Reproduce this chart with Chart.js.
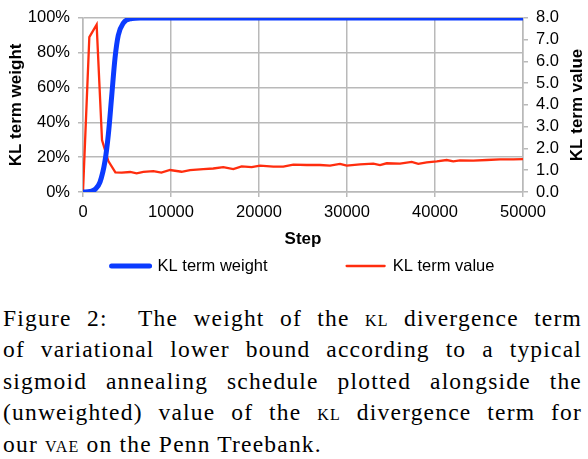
<!DOCTYPE html>
<html lang="en">
<head>
<meta charset="UTF-8">
<title>KL term weight and KL term value</title>
<script src="https://cdn.jsdelivr.net/npm/chart.js"></script>
<style>
  body { margin: 0; background: #fff; }
  #wrap { position: relative; width: 588px; height: 459px; overflow: hidden; }
  #chart { position: absolute; left: 0; top: 0; }
  #caption { position: absolute; left: 3px; top: 303px; width: 579px;
    font-family: "Liberation Serif", "DejaVu Serif", serif; font-size: 23.5px; letter-spacing: 1.2px;
    line-height: 31.4px; color: #000; }
  #caption div { text-align: justify; text-align-last: justify; white-space: nowrap; }
  #caption div.last { text-align-last: left; }
  .sc { font-variant: small-caps; }
</style>
</head>
<body>
<div id="wrap">
  <canvas id="chart" width="588" height="285"></canvas>
  <div id="caption">
    <div>Figure 2:&nbsp; The weight of the <span class="sc">kl</span> divergence term</div>
    <div>of variational lower bound according to a typical</div>
    <div>sigmoid annealing schedule plotted alongside the</div>
    <div>(unweighted) value of the <span class="sc">kl</span> divergence term for</div>
    <div class="last">our <span class="sc">vae</span> on the Penn Treebank.</div>
  </div>
</div>
<script>
  // KL term weight (left axis, %)
  const weightSteps = [0, 800, 1360, 1930, 2500, 2880, 3260, 3640, 4010, 4580, 5530, 6500, 50000];
  const weightPct   = [0, 0.3, 1.5, 5.7, 17.8, 33, 55, 77, 90, 97, 99.6, 100, 100];

  // KL term value (right axis)
  const klSteps = [0, 720, 1550, 2160, 2880, 3680, 4400, 5360, 6100, 6860, 8000, 8900, 9890, 11200, 12160,
    13670, 14800, 15940, 17080, 18030, 19170, 20110, 21630, 22760, 23900, 25420, 26930, 28070, 29200,
    29970, 31480, 32990, 33750, 34510, 36020, 37350, 38100, 39060, 40200, 41330, 42080, 42840, 44350,
    45870, 47390, 48900, 50000];
  const klValues = [0, 7.12, 7.69, 2.39, 1.42, 0.90, 0.89, 0.92, 0.86, 0.92, 0.96, 0.89, 1.01, 0.93, 1.01,
    1.05, 1.08, 1.14, 1.05, 1.18, 1.14, 1.21, 1.17, 1.17, 1.26, 1.24, 1.24, 1.21, 1.29,
    1.21, 1.27, 1.30, 1.24, 1.32, 1.30, 1.38, 1.29, 1.36, 1.41, 1.47, 1.41, 1.45, 1.44,
    1.47, 1.50, 1.50, 1.51];

  const seriesNames = ['KL term weight', 'KL term value'];
  const blue = '#0b3bff';
  const red = '#ff2d0e';
  const gridColor = '#b9b9b9';
  const sans = '"Liberation Sans", Arial, sans-serif';

  const toPoints = (xs, ys) => xs.map((x, i) => ({ x: x, y: ys[i] }));

  // right axis title reads bottom-to-top, Chart.js would rotate it the other way
  const rightTitle = {
    id: 'rightTitle',
    afterDraw(chart) {
      const ctx = chart.ctx, a = chart.chartArea;
      ctx.save();
      ctx.translate(chart.scales.y1.right - 11, (a.top + a.bottom) / 2);
      ctx.rotate(-Math.PI / 2);
      ctx.font = 'bold 17px ' + sans;
      ctx.fillStyle = '#000';
      ctx.textAlign = 'center';
      ctx.textBaseline = 'middle';
      ctx.fillText('KL term value', 0, 0);
      ctx.restore();
    }
  };

  // legend with wide spacing, centred under the plot
  const wideLegend = {
    id: 'wideLegend',
    afterDraw(chart) {
      const ctx = chart.ctx, a = chart.chartArea;
      const y = a.bottom + 74;
      const lineLen = 38, gap = 8, spacing = 79;
      ctx.save();
      ctx.font = '16.5px ' + sans;
      const ds = chart.data.datasets;
      const widths = ds.map(d => ctx.measureText(d.label).width);
      const total = ds.length * (lineLen + gap) + widths.reduce((s, w) => s + w, 0) + spacing * (ds.length - 1);
      let x = (a.left + a.right) / 2 - total / 2;
      ds.forEach((d, i) => {
        ctx.strokeStyle = d.borderColor;
        ctx.lineWidth = d.borderWidth;
        ctx.lineCap = 'round';
        ctx.beginPath();
        ctx.moveTo(x, y);
        ctx.lineTo(x + lineLen, y);
        ctx.stroke();
        ctx.fillStyle = '#000';
        ctx.textBaseline = 'middle';
        ctx.fillText(d.label, x + lineLen + gap, y);
        x += lineLen + gap + widths[i] + spacing;
      });
      ctx.restore();
    }
  };

  new Chart(document.getElementById('chart'), {
    type: 'line',
    data: {
      datasets: [
        {
          label: seriesNames[0],
          data: toPoints(weightSteps, weightPct),
          yAxisID: 'y',
          borderColor: blue,
          backgroundColor: blue,
          borderWidth: 5,
          pointRadius: 0,
          cubicInterpolationMode: 'monotone'
        },
        {
          label: seriesNames[1],
          data: toPoints(klSteps, klValues),
          yAxisID: 'y1',
          borderColor: red,
          backgroundColor: red,
          borderWidth: 2.3,
          pointRadius: 0,
          tension: 0
        }
      ]
    },
    options: {
      responsive: false,
      animation: false,
      layout: { padding: { top: 12, left: 0, right: 0, bottom: 0 } },
      plugins: { legend: { display: false }, tooltip: { enabled: false } },
      scales: {
        x: {
          type: 'linear',
          min: 0, max: 50000,
          ticks: { stepSize: 10000, color: '#000', padding: 6, maxRotation: 0, autoSkip: false,
            callback: v => String(v), font: { size: 16.5, family: sans } },
          grid: { color: gridColor, lineWidth: 1.5, tickLength: 5 },
          border: { color: gridColor, width: 1.5 },
          title: { display: true, text: 'Step', color: '#000', font: { size: 17, weight: 'bold', family: sans }, padding: { top: 0, bottom: 35 } },
          afterFit(s) { s.height = 93; }
        },
        y: {
          position: 'left',
          min: 0, max: 100,
          ticks: { stepSize: 20, color: '#000', padding: 8, autoSkip: false, callback: v => v + '%', font: { size: 16.5, family: sans } },
          grid: { color: gridColor, lineWidth: 1.5, tickLength: 5 },
          border: { color: gridColor, width: 1.5 },
          title: { display: true, text: 'KL term weight', color: '#000', font: { size: 17, weight: 'bold', family: sans }, padding: { top: 6, bottom: 0 } },
          afterFit(s) { s.width = 83; }
        },
        y1: {
          position: 'right',
          min: 0, max: 8,
          ticks: { stepSize: 1, color: '#000', padding: 8, autoSkip: false, callback: v => v.toFixed(1), font: { size: 16.5, family: sans } },
          grid: { drawOnChartArea: false, color: gridColor, lineWidth: 1.5, tickLength: 5 },
          border: { color: gridColor, width: 1.5 },
          afterFit(s) { s.width = 65; }
        }
      }
    },
    plugins: [rightTitle, wideLegend]
  });
</script>
</body>
</html>
